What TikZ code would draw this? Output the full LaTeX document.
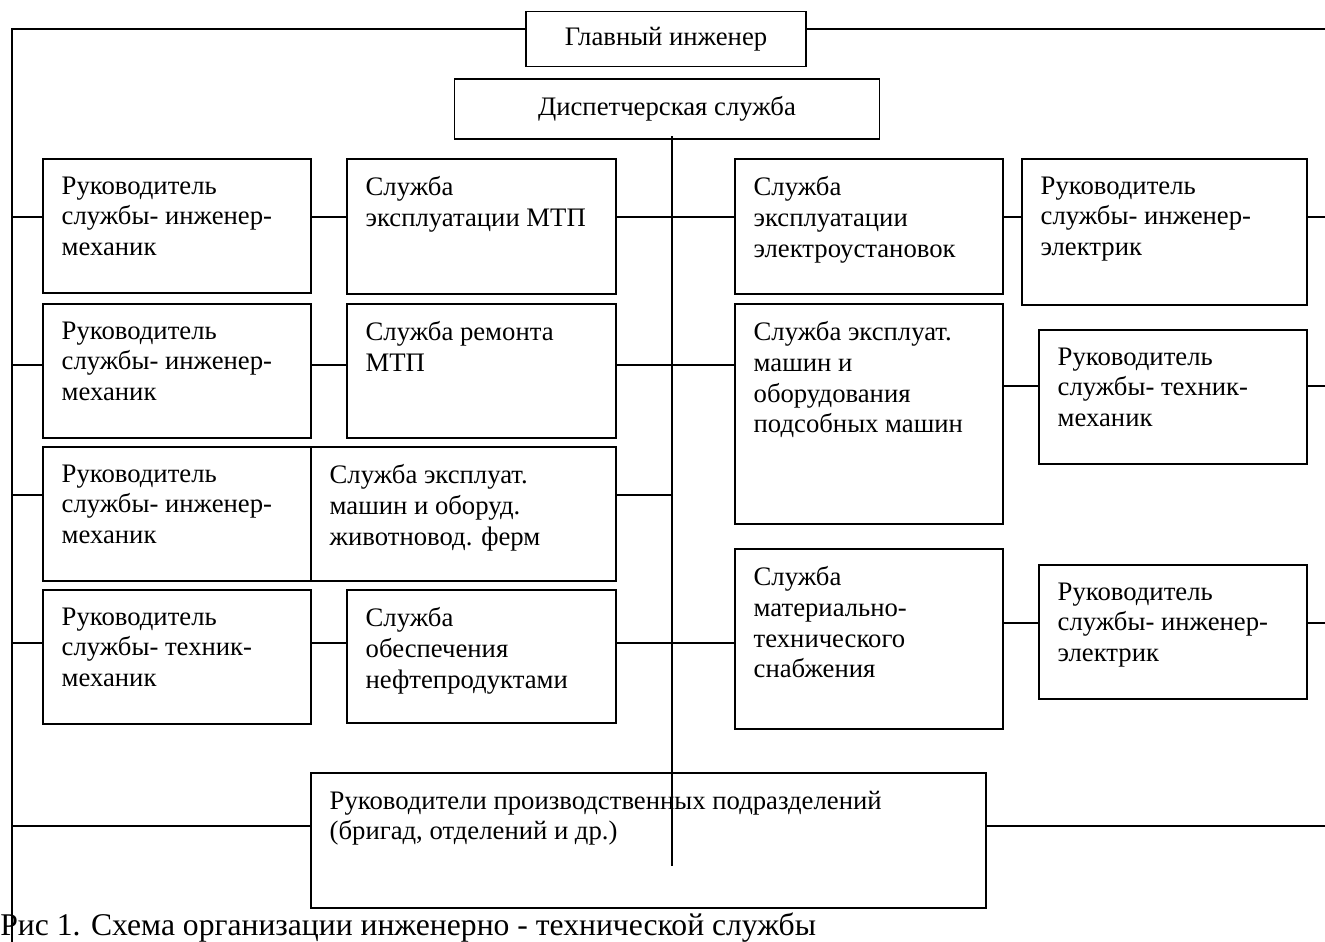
\documentclass[tikz,border=0pt]{standalone}
\usepackage{fontspec}
\setmainfont{Liberation Serif}
\newcommand{\boxfont}{\fontsize{15.2pt}{17.4pt}\selectfont}
\newcommand{\capfont}{\fontsize{18pt}{21pt}\selectfont}

\begin{document}
\begin{tikzpicture}[
      x=0.02cm, y=-0.02cm,
      box/.style={draw, line width=1pt, anchor=north west, inner sep=0pt},
      txt/.style={anchor=north west, align=left, inner xsep=11pt, inner ysep=10.5pt,
                  font=\boxfont},
      conn/.style={line width=1pt},
      bus/.style={line width=0.7pt}
    ]
      \useasboundingbox (0,0) rectangle (1325,942);

      % top level
      \node[box, anchor=center, minimum width=5.6cm, minimum height=1.1cm, font=\boxfont]
        (glav) at (666,39) {Главный инженер};
      \node[box, anchor=center, minimum width=8.5cm, minimum height=1.2cm, font=\boxfont]
        (disp) at (667,109) {Диспетчерская служба};

      % left column: heads of services
      \foreach \i/\y/\t in {1/158/{Руководитель\\службы- инженер-\\механик},
                            2/303/{Руководитель\\службы- инженер-\\механик},
                            3/446/{Руководитель\\службы- инженер-\\механик},
                            4/589/{Руководитель\\службы- техник-\\механик}} {
        \node[box, minimum width=5.36cm, minimum height=2.68cm,
              label={[txt]north west:\t}] (ruk\i) at (42,\y) {};
      }

      % middle column: services
      \node[box, minimum width=5.38cm, minimum height=2.7cm,
            label={[txt]north west:{Служба\\эксплуатации МТП}}] (sl1) at (346,158) {};
      \node[box, minimum width=5.38cm, minimum height=2.68cm,
            label={[txt]north west:{Служба ремонта\\МТП}}] (sl2) at (346,303) {};
      \node[box, minimum width=6.1cm, minimum height=2.68cm,
            label={[txt]north west:{Служба эксплуат.\\машин и оборуд.\\животновод. ферм}}] (sl3) at (310,446) {};
      \node[box, minimum width=5.38cm, minimum height=2.66cm,
            label={[txt]north west:{Служба\\обеспечения\\нефтепродуктами}}] (sl4) at (346,589) {};

      % right column: services
      \node[box, minimum width=5.36cm, minimum height=2.7cm,
            label={[txt]north west:{Служба\\эксплуатации\\электроустановок}}] (se1) at (734,158) {};
      \node[box, minimum width=5.36cm, minimum height=4.4cm,
            label={[txt]north west:{Служба эксплуат.\\машин и\\оборудования\\подсобных машин}}] (se2) at (734,303) {};
      \node[box, minimum width=5.36cm, minimum height=3.6cm,
            label={[txt]north west:{Служба\\материально-\\технического\\снабжения}}] (se3) at (734,548) {};

      % far right: heads of services
      \node[box, minimum width=5.7cm, minimum height=2.92cm,
            label={[txt]north west:{Руководитель\\службы- инженер-\\электрик}}] (re1) at (1021,158) {};
      \node[box, minimum width=5.36cm, minimum height=2.68cm,
            label={[txt]north west:{Руководитель\\службы- техник-\\механик}}] (re2) at (1038,329) {};
      \node[box, minimum width=5.36cm, minimum height=2.68cm,
            label={[txt]north west:{Руководитель\\службы- инженер-\\электрик}}] (re3) at (1038,564) {};

      % bottom
      \node[box, minimum width=13.5cm, minimum height=2.7cm,
            label={[txt]north west:{Руководители производственных подразделений\\(бригад, отделений и др.)}}]
        (bot) at (310,772) {};

      \node[anchor=base west, inner sep=0pt, font=\capfont] (cap) at (0,935)
        {Рис 1. Схема организации инженерно - технической службы};

      % bus lines
      \coordinate (tl) at (12,29);
      \coordinate (tr) at (1325,29);
      \coordinate (bl) at (12,942);
      \coordinate (cb) at (672,866);
      \foreach \i/\ly in {1/217, 2/365, 3/495, 4/643, 5/826}
        \coordinate (h\i) at (672,\ly);
      \coordinate (g2) at (1020,386);
      \coordinate (g3) at (1020,623);

      \draw[bus] (tl -| glav.west) -- (tl) -- (bl);
      \draw[conn] (tr -| glav.east) -- (tr);
      \draw[bus] ([yshift=2pt]disp.south -| cb) -- (cb);

      % left side rows
      \foreach \i in {1,...,4}
        \draw[conn] (tl |- h\i) -- (ruk\i.west |- h\i)
                    (ruk\i.east |- h\i) -- (sl\i.west |- h\i)
                    (sl\i.east |- h\i) -- (h\i);

      % right side rows
      \draw[conn] (h1) -- (se1.west |- h1) (se1.east |- h1) -- (re1.west |- h1)
                  (re1.east |- h1) -- (tr |- h1);
      \draw[conn] (h2) -- (se2.west |- h2);
      \draw[conn] (se2.east |- g2) -- (re2.west |- g2) (re2.east |- g2) -- (tr |- g2);
      \draw[conn] (h4) -- (se3.west |- h4);
      \draw[conn] (se3.east |- g3) -- (re3.west |- g3) (re3.east |- g3) -- (tr |- g3);

      % bottom row
      \draw[conn] (tl |- h5) -- (bot.west |- h5) (bot.east |- h5) -- (tr |- h5);
    \end{tikzpicture}
\end{document}
